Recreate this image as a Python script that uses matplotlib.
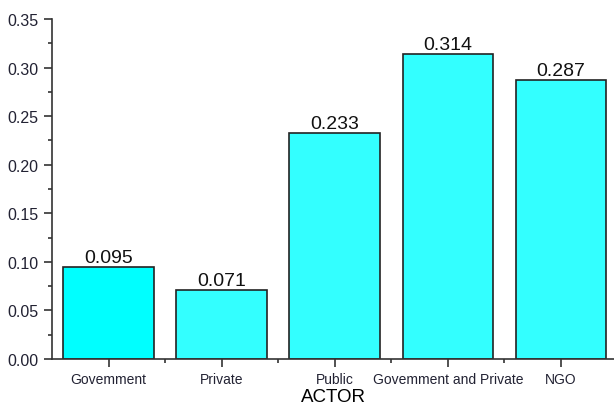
import matplotlib.pyplot as plt
from matplotlib.ticker import MultipleLocator, FixedLocator

plt.rcParams["font.family"] = ["Liberation Sans", "DejaVu Sans"]

actors = ["Govemment", "Private", "Public", "Govemment and Private", "NGO"]
shares = [0.095, 0.071, 0.233, 0.314, 0.287]
colors = ["#00FFFF", "#33FFFF", "#33FFFF", "#33FFFF", "#33FFFF"]

fig = plt.figure(figsize=(6.14, 4.06), dpi=100)
ax = fig.add_axes([0.0847, 0.1133, 0.9153, 0.8374])

x = list(range(len(actors)))
ax.bar(x, shares, width=0.8, color=colors, edgecolor="#222222", linewidth=1.2)
for xi, v in zip(x, shares):
    ax.text(xi, v + 0.001, f"{v:.3f}", ha="center", va="bottom", fontsize=14, color="#111111")

ax.set_xlim(-0.5, 4.47)
ax.set_ylim(0, 0.35)
ax.set_xticks(x)
ax.set_xticklabels(actors, fontsize=10, color="#222233")
ax.xaxis.set_minor_locator(FixedLocator([0.5, 1.5, 2.5, 3.5]))
ax.yaxis.set_major_locator(MultipleLocator(0.05))
ax.yaxis.set_minor_locator(MultipleLocator(0.025))
ax.yaxis.set_major_formatter(plt.FormatStrFormatter("%.2f"))
ax.tick_params(axis="y", labelsize=11.5, labelcolor="#222233")
ax.tick_params(which="major", length=6, width=1.2, color="#333333")
ax.tick_params(which="minor", length=3, width=1.2, color="#333333")
ax.set_xlabel("ACTOR", fontsize=13.5, labelpad=1)

for s in ("top", "right"):
    ax.spines[s].set_visible(False)
for s in ("left", "bottom"):
    ax.spines[s].set_linewidth(1.2)
    ax.spines[s].set_color("#333333")

fig.savefig("out.png", dpi=100)
